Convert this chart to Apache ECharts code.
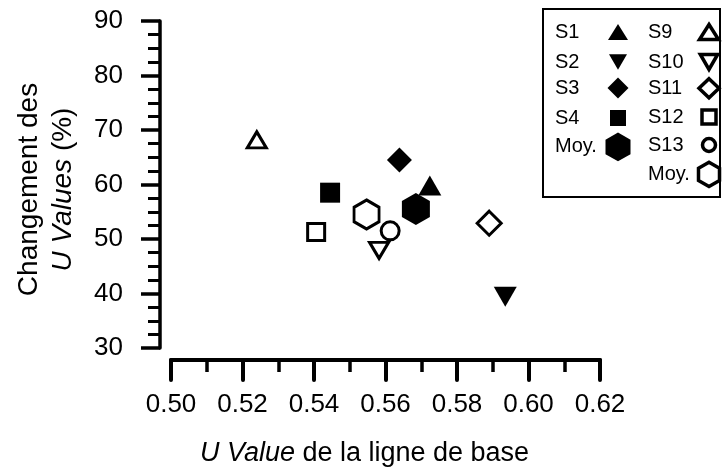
<!DOCTYPE html>
<html>
<head>
<meta charset="utf-8">
<script src="https://cdn.jsdelivr.net/npm/echarts@6/dist/echarts.min.js"></script>
<style>
  html, body { margin: 0; padding: 0; background: #fff; }
  #chart { width: 722px; height: 471px; }
</style>
</head>
<body>
<div id="chart"></div>
<script>
// Baseline U value vs. change in U values, per sample and group means
const seriesNames  = ['S1', 'S2', 'S3', 'S4', 'Moy. (S1–S4)', 'S9', 'S10', 'S11', 'S12', 'S13', 'Moy. (S9–S13)'];
const legendLabels = ['S1', 'S2', 'S3', 'S4', 'Moy.', 'S9', 'S10', 'S11', 'S12', 'S13', 'Moy.'];
const baselineU    = [0.5724, 0.5935, 0.5639, 0.5445, 0.5685, 0.524, 0.5582, 0.589, 0.5406, 0.5613, 0.5547];
const changePct    = [59.8, 39.4, 64.5, 58.5, 55.5, 68.2, 47.9, 52.9, 51.3, 51.5, 54.5];
const xTickLabels  = ['0.50', '0.52', '0.54', '0.56', '0.58', '0.60', '0.62'];
const yTickLabels  = ['30', '40', '50', '60', '70', '80', '90'];

const FONT = "'Liberation Sans', Arial, sans-serif";
const DOWN_TRI = 'path://M0,0L2,0L1,1.732Z';
const HEXAGON = 'path://M0.866,0L1.732,0.5L1.732,1.5L0.866,2L0,1.5L0,0.5Z';

// Marker look per series (filled = first group, hollow = second group)
const markers = [
  { symbol: 'triangle', size: [23, 20], filled: true,  legendSize: [20, 16] },
  { symbol: DOWN_TRI,   size: [23, 20], filled: true,  legendSize: [18, 16] },
  { symbol: 'diamond',  size: [25, 25], filled: true,  legendSize: [21, 21] },
  { symbol: 'rect',     size: [20, 20], filled: true,  legendSize: [16, 16] },
  { symbol: HEXAGON,    size: [28, 32], filled: true,  legendSize: [25, 29] },
  { symbol: 'triangle', size: [19, 16], filled: false, legendSize: [19, 15] },
  { symbol: DOWN_TRI,   size: [19, 16], filled: false, legendSize: [18, 15] },
  { symbol: 'diamond',  size: [24, 24], filled: false, legendSize: [20, 19] },
  { symbol: 'rect',     size: [17, 17], filled: false, legendSize: [14, 14] },
  { symbol: 'circle',   size: [18, 18], filled: false, legendSize: [13, 13] },
  { symbol: HEXAGON,    size: [25, 29], filled: false, legendSize: [21, 27] }
];

// Legend grid: two columns, label on the left, marker on the right
const legendCols = [
  { labelLeft: 555, iconX: 618, rows: [32, 62, 88, 118, 147] },
  { labelLeft: 648, iconX: 709, rows: [32, 62, 88, 117, 145, 174] }
];

const styleOf = (m, bw) => m.filled
  ? { color: '#000', borderColor: '#000', borderWidth: 0, opacity: 1 }
  : { color: '#fff', borderColor: '#000', borderWidth: bw, opacity: 1 };

const series = seriesNames.map((name, i) => ({
  type: 'scatter',
  name: name,
  data: [[baselineU[i], changePct[i]]],
  symbol: markers[i].symbol,
  symbolSize: markers[i].size,
  itemStyle: styleOf(markers[i], 3),
  emphasis: { disabled: true }
}));

const legends = [];
let k = 0;
legendCols.forEach(col => {
  col.rows.forEach(cy => {
    const m = markers[k];
    const iw = m.legendSize[0], ih = m.legendSize[1];
    const labelW = col.iconX - iw / 2 - 5 - col.labelLeft;
    const label = legendLabels[k];
    const textH = 22;
    legends.push({
      data: [seriesNames[k]],
      orient: 'vertical',
      align: 'right',
      left: col.labelLeft,
      top: cy - Math.max(ih, textH) / 2,
      padding: 0,
      itemGap: 0,
      itemWidth: iw,
      itemHeight: ih,
      selectedMode: false,
      itemStyle: styleOf(m, 3.5),
      formatter: () => '{n|' + label + '}',
      textStyle: {
        rich: {
          n: { width: labelW, height: textH, lineHeight: textH, fontSize: 20,
               fontFamily: FONT, color: '#000', align: 'left' }
        }
      }
    });
    k++;
  });
});

const chart = echarts.init(document.getElementById('chart'), null, { renderer: 'canvas' });
chart.setOption({
  backgroundColor: '#fff',
  animation: false,
  grid: { left: 171, right: 122, top: 21, bottom: 123, containLabel: false, outerBoundsMode: 'none' },
  xAxis: {
    type: 'value',
    min: +xTickLabels[0],
    max: +xTickLabels[xTickLabels.length - 1],
    interval: 0.02,
    offset: 12,
    axisLine: { show: true, lineStyle: { color: '#000', width: 4 } },
    axisTick: { show: true, length: 20, lineStyle: { color: '#000', width: 4, cap: 'round' } },
    minorTick: { show: true, splitNumber: 2, length: 12, lineStyle: { color: '#000', width: 3.5 } },
    splitLine: { show: false },
    axisLabel: {
      margin: 32, fontSize: 26, color: '#000', fontFamily: FONT,
      formatter: v => xTickLabels.find(t => Math.abs(+t - v) < 1e-9) || v.toFixed(2)
    },
    name: '{i|U Value} de la ligne de base',
    nameLocation: 'middle',
    nameGap: 80,
    nameTextStyle: {
      fontSize: 27, color: '#000', fontFamily: FONT, padding: [0, 42, 0, 0],
      rich: { i: { fontStyle: 'italic', fontSize: 27, color: '#000', fontFamily: FONT } }
    }
  },
  yAxis: {
    type: 'value',
    min: +yTickLabels[0],
    max: +yTickLabels[yTickLabels.length - 1],
    interval: 10,
    offset: 11,
    axisLine: { show: true, lineStyle: { color: '#000', width: 3.5 } },
    axisTick: { show: true, length: 19, lineStyle: { color: '#000', width: 3.5 } },
    minorTick: { show: true, splitNumber: 4, length: 12, lineStyle: { color: '#000', width: 3 } },
    splitLine: { show: false },
    axisLabel: { margin: 37, fontSize: 26, color: '#000', fontFamily: FONT },
    name: 'Changement des\n{i|U Values} (%)',
    nameLocation: 'middle',
    nameGap: 80,
    nameTextStyle: {
      fontSize: 28, lineHeight: 34, color: '#000', fontFamily: FONT, padding: [0, 10, 0, 0],
      rich: { i: { fontStyle: 'italic', fontSize: 28, lineHeight: 34, color: '#000', fontFamily: FONT } }
    }
  },
  legend: legends,
  graphic: [{
    type: 'rect',
    shape: { x: 543, y: 9, width: 177, height: 188 },
    style: { fill: 'none', stroke: '#000', lineWidth: 2 },
    silent: true
  }],
  series: series
});
</script>
</body>
</html>
